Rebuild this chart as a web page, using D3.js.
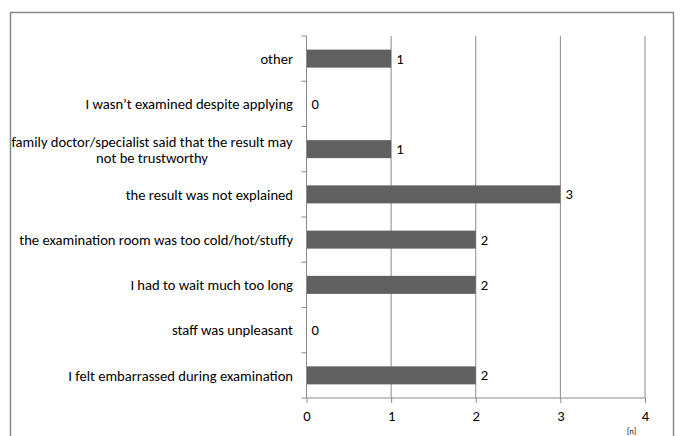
<!DOCTYPE html>
<html><head><meta charset="utf-8">
<script src="https://cdn.jsdelivr.net/npm/d3@7/dist/d3.min.js"></script>
<style>body{margin:0;background:#fff}svg{display:block}text{font-family:Carlito,Calibri,Lato,sans-serif;fill:#000}</style>
</head><body><svg id="c" width="680" height="436"></svg>
<script>
const categories = [
  "other",
  "I wasn\u2019t examined despite applying",
  ["family doctor/specialist said that the result may", "not be trustworthy"],
  "the result was not explained",
  "the examination room was too cold/hot/stuffy",
  "I had to wait much too long",
  "staff was unpleasant",
  "I felt embarrassed during examination"
];
const values = [1, 0, 1, 3, 2, 2, 0, 2];
const xTicks = [0, 1, 2, 3, 4];
const unitLabel = "[n]";

(function () {
const FS = 14.6;
const svg = d3.select("#c");
svg.append("rect").attr("x", 10.5).attr("y", 12.5).attr("width", 663).attr("height", 440)
  .attr("fill", "none").attr("stroke", "#888").attr("stroke-width", 1.5);

const pLeft = 306.5, pRight = 645, pTop = 36, pBottom = 398;
const x = d3.scaleLinear().domain([0, 4]).range([pLeft, pRight]);
const band = d3.scaleBand().domain(d3.range(categories.length)).range([pTop, pBottom]);

svg.append("g").selectAll("line").data(xTicks.slice(1)).join("line")
  .attr("x1", d => x(d)).attr("x2", d => x(d)).attr("y1", pTop).attr("y2", pBottom)
  .attr("stroke", "#8a8a8a").attr("stroke-width", 1);

svg.append("g").selectAll("rect").data(values).join("rect")
  .attr("x", x(0)).attr("y", (d, i) => band(i) + band.bandwidth() / 2 - 9)
  .attr("width", d => x(d) - x(0)).attr("height", 18)
  .attr("fill", "#606060");

svg.append("line").attr("x1", pLeft).attr("x2", pLeft).attr("y1", pTop).attr("y2", pBottom)
  .attr("stroke", "#8a8a8a");
svg.append("g").selectAll("line").data(d3.range(categories.length + 1)).join("line")
  .attr("x1", pLeft - 5).attr("x2", pLeft)
  .attr("y1", i => i < categories.length ? band(i) : pBottom)
  .attr("y2", i => i < categories.length ? band(i) : pBottom)
  .attr("stroke", "#8a8a8a");

const xAxis = d3.axisBottom(x).tickValues(xTicks).tickSize(5).tickPadding(8).tickFormat(d3.format("d"));
const gx = svg.append("g").attr("transform", `translate(0,${pBottom})`).call(xAxis);
gx.select(".domain").attr("stroke", "#8a8a8a").attr("d", `M${pLeft},0H${pRight}`);
gx.selectAll(".tick line").attr("stroke", "#8a8a8a");
gx.selectAll(".tick text").attr("font-size", FS).attr("font-family", "Carlito,Calibri,Lato,sans-serif").attr("fill", "#000");

const lab = svg.append("g").selectAll("text").data(categories).join("text")
  .attr("font-size", FS)
  .attr("transform", (d, i) => `translate(0,${band(i) + band.bandwidth() / 2})`);
lab.each(function (d) {
  const t = d3.select(this);
  if (Array.isArray(d)) {
    t.attr("text-anchor", "middle");
    d.forEach((s, k) => t.append("tspan").attr("x", 152).attr("y", (k - 0.5) * 16.5 + 0.5).attr("dy", "0.35em").text(s));
  } else {
    t.attr("text-anchor", "end").attr("x", 293).attr("dy", "0.35em").text(d);
  }
});

svg.append("g").selectAll("text").data(values).join("text")
  .attr("x", d => x(d) + 5).attr("y", (d, i) => band(i) + band.bandwidth() / 2)
  .attr("dy", "0.35em").attr("font-size", FS).text(d => d);

svg.append("text").attr("x", 627).attr("y", 434).attr("font-size", 8).text(unitLabel);
})();
</script></body></html>
